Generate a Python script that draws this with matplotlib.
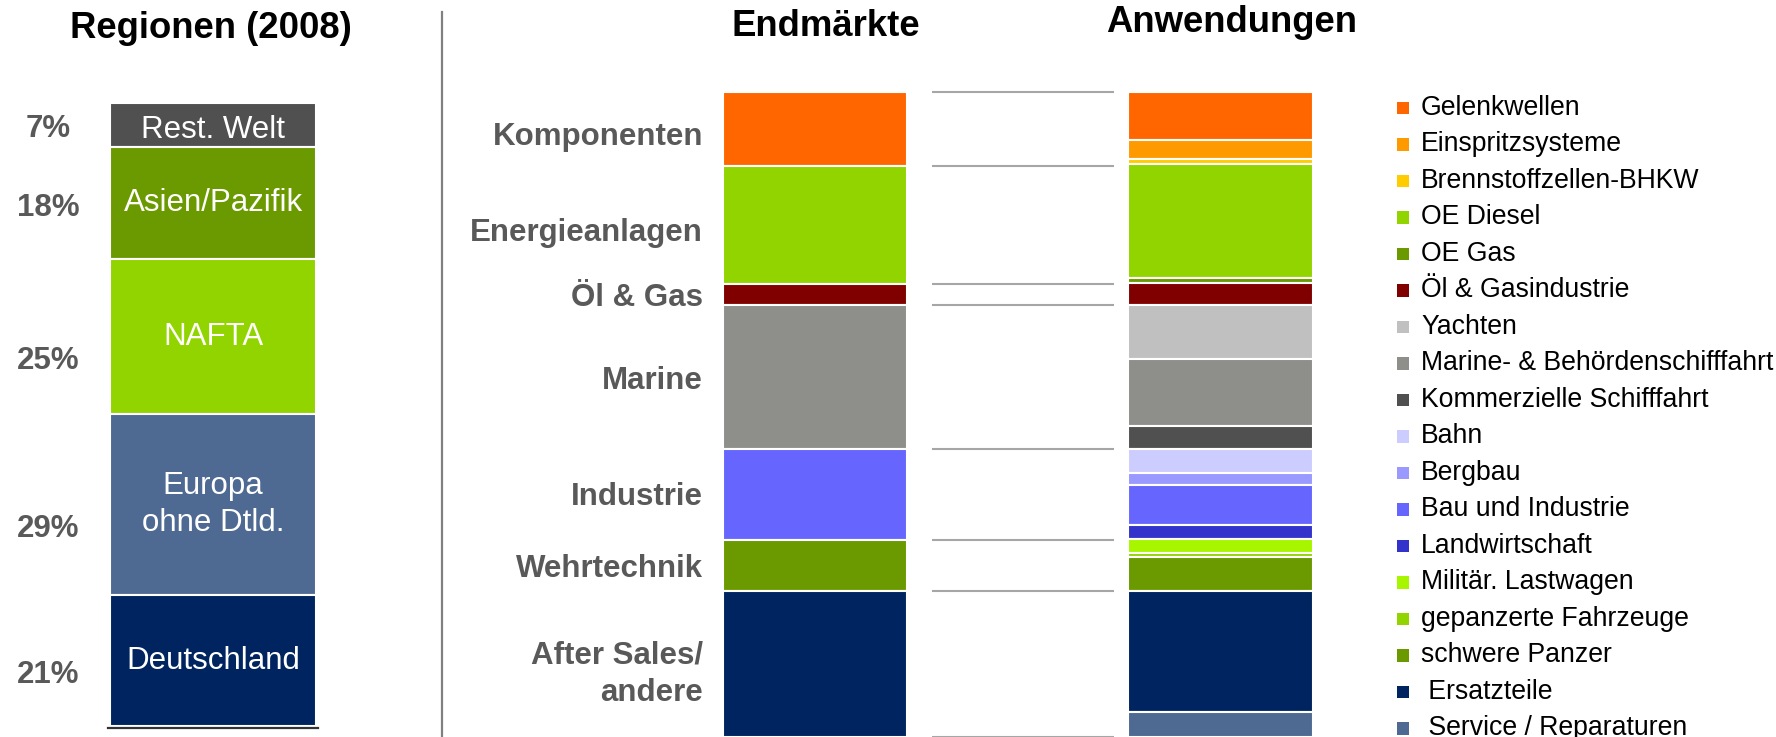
import numpy as np
import matplotlib
matplotlib.use("Agg")
import matplotlib.pyplot as plt
from matplotlib.lines import Line2D

plt.rcParams["font.family"] = ["Liberation Sans", "DejaVu Sans"]

# regionen (2008), top to bottom
region_labels = ["Rest. Welt", "Asien/Pazifik", "NAFTA", "Europa\nohne Dtld.", "Deutschland"]
region_pct = [7, 18, 25, 29, 21]
region_colors = ["#505050", "#6a9a00", "#92d400", "#4e6a92", "#00245f"]

# endmaerkte, top to bottom (share in %)
market_labels = ["Komponenten", "Energieanlagen", "Öl & Gas", "Marine",
                 "Industrie", "Wehrtechnik", "After Sales/\nandere"]
market_pct = [11.4, 18.3, 3.4, 22.3, 14.1, 7.9, 22.6]
market_colors = ["#ff6600", "#92d400", "#800000", "#8e8e8a",
                 "#6666ff", "#6a9a00", "#00245f"]

# anwendungen, top to bottom (share in %)
app_labels = ["Gelenkwellen", "Einspritzsysteme", "Brennstoffzellen-BHKW", "OE Diesel",
              "OE Gas", "Öl & Gasindustrie", "Yachten", "Marine- & Behördenschifffahrt",
              "Kommerzielle Schifffahrt", "Bahn", "Bergbau", "Bau und Industrie",
              "Landwirtschaft", "Militär. Lastwagen", "gepanzerte Fahrzeuge",
              "schwere Panzer", " Ersatzteile", " Service / Reparaturen"]
app_pct = [7.4, 3.0, 0.7, 17.7, 0.8, 3.4, 8.4, 10.4, 3.5, 3.7, 1.9, 6.2,
           2.2, 2.2, 0.6, 5.2, 18.9, 3.8]
app_colors = ["#ff6600", "#ff9900", "#ffcc00", "#92d400", "#6a9a00", "#800000",
              "#c0c0c0", "#8e8e8a", "#505050", "#ccccff", "#9999ff", "#6666ff",
              "#3333cc", "#a8f500", "#92d400", "#6a9a00", "#00245f", "#4e6a92"]

W, H = 1776, 737
label_gray = "#595959"

fig = plt.figure(figsize=(W / 100, H / 100), dpi=100)


def stack_starts(vals):
    vals = np.asarray(vals, dtype=float)
    return np.cumsum(vals) - vals


# ---- regionen panel ----
ax_reg = fig.add_axes([110 / W, 1 - 726 / H, 206 / W, 623 / H])
ax_reg.set_xlim(-0.5, 0.5)
ax_reg.set_ylim(100, 0)
ax_reg.axis("off")

reg_start = stack_starts(region_pct)
ax_reg.bar(0, region_pct, bottom=reg_start, width=1.0, color=region_colors,
           edgecolor="white", linewidth=1.5)
ax_reg.axhline(100.4, xmin=-0.01, xmax=1.01, color="#333333", lw=1.6, clip_on=False)

# percent labels sit a bit below segment centres in the original
pct_shift = [0.75, 0.85, 3.95, 3.95, 2.35]
txt_shift = [0.8, 0.0, 0.0, 0.0, 0.0]
for i, (lab, v) in enumerate(zip(region_labels, region_pct)):
    mid = reg_start[i] + v / 2
    ax_reg.text(0, mid + txt_shift[i], lab, ha="center", va="center", color="white",
                fontsize=22.5, linespacing=1.3)
    ax_reg.text(-0.80, mid + pct_shift[i], f"{v}%", ha="center", va="center",
                color=label_gray, fontsize=22.5, fontweight="bold")

# ---- endmaerkte + anwendungen panel ----
ax_m = fig.add_axes([723 / W, 0, 588 / W, 645 / H])
ax_m.set_xlim(-0.2269, 1.2232)
ax_m.set_ylim(100, 0)
ax_m.axis("off")

bar_w = 0.4538
mk_start = stack_starts(market_pct)
ax_m.bar(0, market_pct, bottom=mk_start, width=bar_w, color=market_colors,
         edgecolor="white", linewidth=1.5)

app_start = stack_starts(app_pct)
ax_m.bar(1, app_pct, bottom=app_start, width=bar_w, color=app_colors,
         edgecolor="white", linewidth=1.5, clip_on=False)

# connector lines at the end market boundaries
bounds = np.concatenate([[0], np.cumsum(market_pct)])
ax_m.hlines(bounds, 0.2885, 0.737, color="#a6a6a6", lw=1.5, clip_on=False)

mk_shift = [1.3, 1.35, 0.5, 0.5, 0.3, 0.5, 1.6]
for i, (lab, v) in enumerate(zip(market_labels, market_pct)):
    mid = market_pct[i] / 2 + mk_start[i] + mk_shift[i]
    ax_m.text(-0.276, mid, lab, ha="right", va="center", color=label_gray,
              fontsize=22.5, fontweight="bold", linespacing=1.3)

# ---- legend for anwendungen ----
n = len(app_labels)
step = 36.5
top = 108.0
ax_l = fig.add_axes([1390 / W, 1 - (top + step * (n - 0.5)) / H, 386 / W, step * n / H])
ax_l.set_xlim(0, 386)
ax_l.set_ylim(n - 0.5, -0.5)
ax_l.axis("off")
idx = np.arange(n)
ax_l.scatter(np.full(n, 13), idx, marker="s", s=80, c=app_colors, linewidths=0,
             clip_on=False)
for i, lab in enumerate(app_labels):
    ax_l.text(31, i, lab, ha="left", va="center", fontsize=19.2, color="black",
              clip_on=False)

# ---- titles and separator ----
fig.text(211 / W, 1 - 28 / H, "Regionen (2008)", ha="center", va="center",
         fontsize=26.3, fontweight="bold")
fig.text(826 / W, 1 - 27 / H, "Endmärkte", ha="center", va="center",
         fontsize=26.3, fontweight="bold")
fig.text(1232 / W, 1 - 23 / H, "Anwendungen", ha="center", va="center",
         fontsize=26.3, fontweight="bold")
fig.add_artist(Line2D([441.7 / W, 441.7 / W], [0, 1 - 12 / H], color="#808080", lw=1.6))

fig.savefig("out.png", dpi=100)
